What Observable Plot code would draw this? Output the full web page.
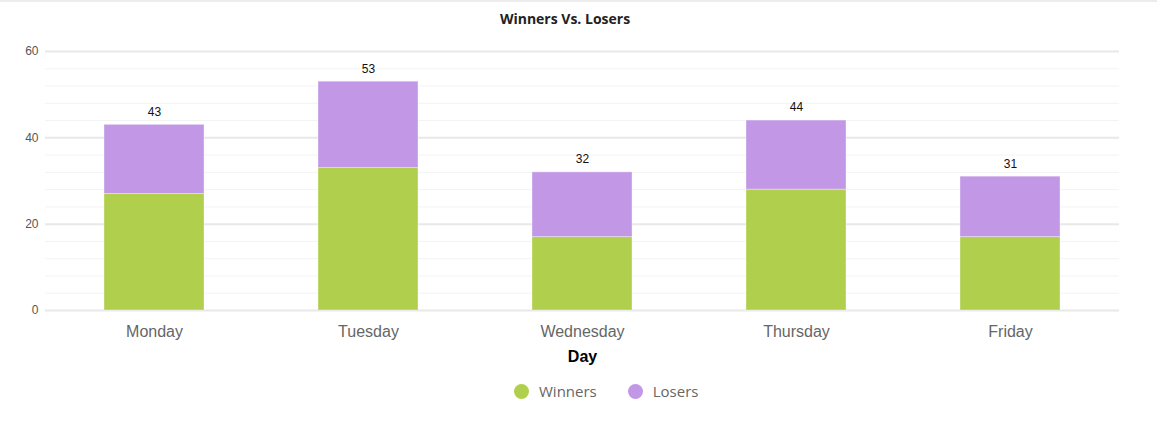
<!DOCTYPE html>
<html><head><meta charset="utf-8">
<script src="https://cdn.jsdelivr.net/npm/d3@7"></script>
<script src="https://cdn.jsdelivr.net/npm/@observablehq/plot@0.6"></script>
<style>
body{margin:0;background:#fff;width:1157px;height:432px;overflow:hidden;position:relative;font-family:Lato,sans-serif}
#topline{position:absolute;left:0;top:0;width:1157px;height:2px;background:#ececec}
#title{position:absolute;top:0;left:0;width:1130px;height:38px;line-height:38px;text-align:center;font-weight:bold;font-size:14px;font-family:'Open Sans',sans-serif;color:#222}
#chart{position:absolute;top:39px;left:0}
#legend{position:absolute;top:382px;left:514px;height:18px;display:flex;align-items:center;font-size:15px;font-family:'Open Sans',sans-serif;color:#666}
.item{display:flex;align-items:center;margin-right:31px}
.sw{width:15px;height:15px;border-radius:50%;display:inline-block;margin-right:10px}
</style>
</head><body>
<div id="topline"></div>
<div id="title">Winners Vs. Losers</div>
<div id="chart"></div>
<div id="legend"></div>
<script>
const days = ["Monday", "Tuesday", "Wednesday", "Thursday", "Friday"];
const winners = [27, 33, 17, 28, 17];
const losers = [16, 20, 15, 16, 14];
const seriesNames = ["Winners", "Losers"];
const seriesColors = ["#b0cf4c", "#c297e6"];
const yTicks = [0, 20, 40, 60];
const minorTicks = d3.range(0, 61, 4).filter(v => !yTicks.includes(v));

const data = days.flatMap((d, i) => [
  {day: d, group: "Winners", value: winners[i]},
  {day: d, group: "Losers", value: losers[i]}
]);
const totals = days.map((d, i) => ({day: d, total: winners[i] + losers[i]}));

const chart = Plot.plot({
  width: 1157, height: 335,
  marginTop: 12, marginBottom: 64, marginLeft: 45, marginRight: 38,
  style: {fontFamily: "'Liberation Sans', Arial, sans-serif", background: "transparent"},
  x: {domain: days, paddingInner: 0.534, paddingOuter: 0.267, label: null},
  y: {domain: [0, 60], label: null},
  color: {domain: seriesNames, range: seriesColors},
  marks: [
    Plot.ruleY(minorTicks, {stroke: "#f3f3f3", strokeWidth: 1}),
    Plot.ruleY(yTicks, {stroke: "#e8e8e8", strokeWidth: 2}),
    Plot.barY(data, {x: "day", y: "value", fill: "group", stroke: "#ffffff", strokeOpacity: 0.35, strokeWidth: 1}),
    Plot.text(totals, {x: "day", y: "total", text: d => String(d.total), dy: -13, fontSize: 12, fill: "#111"}),
    Plot.axisY({ticks: yTicks, tickSize: 0, tickPadding: 7, fontSize: 12, color: "#555", label: null}),
    Plot.axisX({tickSize: 0, tickPadding: 15, fontSize: 16, color: "#666", label: null}),
    Plot.text(["Day"], {frameAnchor: "bottom", dy: 51, text: d => d, fontSize: 16, fontWeight: "bold", fill: "#000"})
  ]
});
document.getElementById("chart").appendChild(chart);

const legend = document.getElementById("legend");
seriesNames.forEach((name, i) => {
  const it = document.createElement("div");
  it.className = "item";
  it.innerHTML = `<span class="sw" style="background:${seriesColors[i]}"></span><span>${name}</span>`;
  legend.appendChild(it);
});
</script>
</body></html>
